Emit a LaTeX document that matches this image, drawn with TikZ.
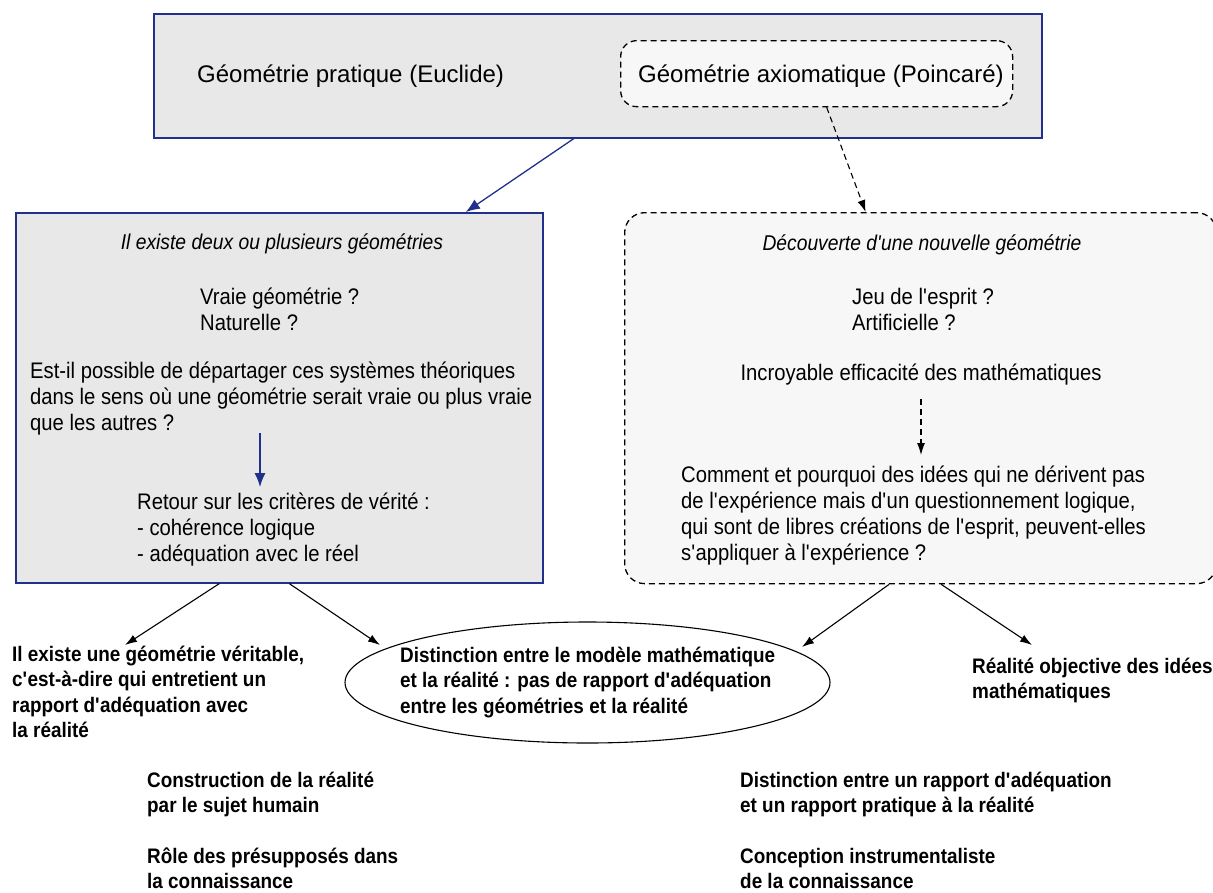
\documentclass[tikz,border=0pt]{standalone}
\usepackage{fontspec}
\setmainfont{Liberation Sans}
\newfontfamily\cf[FakeStretch=0.9]{Liberation Sans}
\usetikzlibrary{shapes.geometric,arrows.meta}
\definecolor{navy}{RGB}{33,48,140}
\definecolor{boxgray}{RGB}{232,232,232}
\definecolor{palegray}{RGB}{247,247,247}
\newcommand\apo{\textquotesingle}
\tikzset{
  bluebox/.style={draw=navy, line width=1.6pt, fill=boxgray, inner sep=0pt, anchor=north west},
  dashbox/.style={draw=black, line width=1.3pt, dash pattern=on 6pt off 4pt, fill=palegray, rounded corners=18pt, inner sep=0pt, anchor=north west},
  toptext/.style={font=\fontsize{24}{28}\selectfont, anchor=base west, inner sep=0pt},
  body/.style={font=\cf\fontsize{22.5}{26}\selectfont, anchor=base west, inner sep=0pt, align=left},
  head/.style={font=\cf\itshape\fontsize{21.4}{24}\selectfont, anchor=base, inner sep=0pt},
  boldtext/.style={font=\cf\bfseries\fontsize{21}{25.5}\selectfont, anchor=base west, inner sep=0pt, align=left},
  bluearrow/.style={draw=navy, line width=1.3pt, -{Latex[length=14pt,width=11pt]}},
  blackarrow/.style={draw=black, line width=1.1pt, -{Latex[length=12pt,width=8pt]}},
  dasharrow/.style={draw=black, line width=1.1pt, dash pattern=on 6pt off 4pt, -{Latex[length=12pt,width=8pt]}},
}
\begin{document}
\begin{tikzpicture}[x=1pt,y=-1pt]
\useasboundingbox (0,0) rectangle (1213,892);

% top box
\node[bluebox, minimum width=888, minimum height=124] (top) at (153,13) {};
\node[dashbox, rounded corners=16pt, minimum width=392, minimum height=66] (axbox) at (620,40) {};
\node[toptext] (prat) at (197,82) {Géométrie pratique (Euclide)};
\node[toptext] (axio) at (638,82) {Géométrie axiomatique (Poincaré)};

% left box (multi-line nodes are placed at the baseline of their last line)
\node[bluebox, minimum width=527, minimum height=370] (lbox) at (15,212) {};
\node[head] (lhead) at (282,249) {Il existe deux ou plusieurs géométries};
\node[body] (lq1) at (200,330) {Vraie géométrie ?\\Naturelle ?};
\node[body] (lq2) at (30,430) {Est-il possible de départager ces systèmes théoriques\\dans le sens où une géométrie serait vraie ou plus vraie\\que les autres ?};
\node[body] (lret) at (137,561) {Retour sur les critères de vérité :\\- cohérence logique\\- adéquation avec le réel};
\coordinate (la1) at (260,433);
\coordinate (la2) at (260,487);
\draw[bluearrow] (la1) -- (la2);

% right box
\node[dashbox, rounded corners=20pt, minimum width=592, minimum height=371] (rbox) at (624,212) {};
\node[head] (rhead) at (922,250) {Découverte d\apo une nouvelle géométrie};
\node[body] (rq1) at (852,330) {Jeu de l\apo esprit ?\\Artificielle ?};
\node[body, anchor=base] (rinc) at (921,380) {Incroyable efficacité des mathématiques};
\node[body] (rcom) at (681,560) {Comment et pourquoi des idées qui ne dérivent pas\\de l\apo expérience mais d\apo un questionnement logique,\\qui sont de libres créations de l\apo esprit, peuvent-elles\\s\apo appliquer à l\apo expérience ?};
\coordinate (ra1) at (921,399);
\coordinate (ra2) at (921,455);
\draw[dasharrow] (ra1) -- (ra2);

% top arrows
\draw[bluearrow] ([xshift=-24pt]top.south) -- ([xshift=186.5pt]lbox.north);
\draw[dasharrow] ([xshift=10pt]axbox.south) -- ([xshift=-55pt]rbox.north);

% ellipse and results
\node[draw, line width=1.1pt, ellipse, minimum width=485, minimum height=121, inner sep=0pt] (ell) at (587.5,682.5) {};
\node[boldtext] (etext) at (400,713) {Distinction entre le modèle mathématique\\et la réalité : pas de rapport d\apo adéquation\\entre les géométries et la réalité};
\node[boldtext] (lres) at (12,737.5) {Il existe une géométrie véritable,\\c\apo est-à-dire qui entretient un\\rapport d\apo adéquation avec\\la réalité};
\node[boldtext] (robj) at (972,698.5) {Réalité objective des idées\\mathématiques};
\node[boldtext] (cons) at (147,812.5) {Construction de la réalité\\par le sujet humain};
\node[boldtext] (role) at (147,888.5) {Rôle des présupposés dans\\la connaissance};
\node[boldtext] (dist) at (740,812.5) {Distinction entre un rapport d\apo adéquation\\et un rapport pratique à la réalité};
\node[boldtext] (conc) at (740,888.5) {Conception instrumentaliste\\de la connaissance};

\coordinate (tipL) at (125,645);
\coordinate (tipE1) at (380,645);
\coordinate (tipE2) at (802,647);
\coordinate (tipR) at (1032,645);
\draw[blackarrow] ([xshift=-60pt]lbox.south) -- (tipL);
\draw[blackarrow] ([xshift=10pt]lbox.south) -- (tipE1);
\draw[blackarrow] ([xshift=-31.5pt]rbox.south) -- (tipE2);
\draw[blackarrow] ([xshift=20.5pt]rbox.south) -- (tipR);
\end{tikzpicture}
\end{document}
